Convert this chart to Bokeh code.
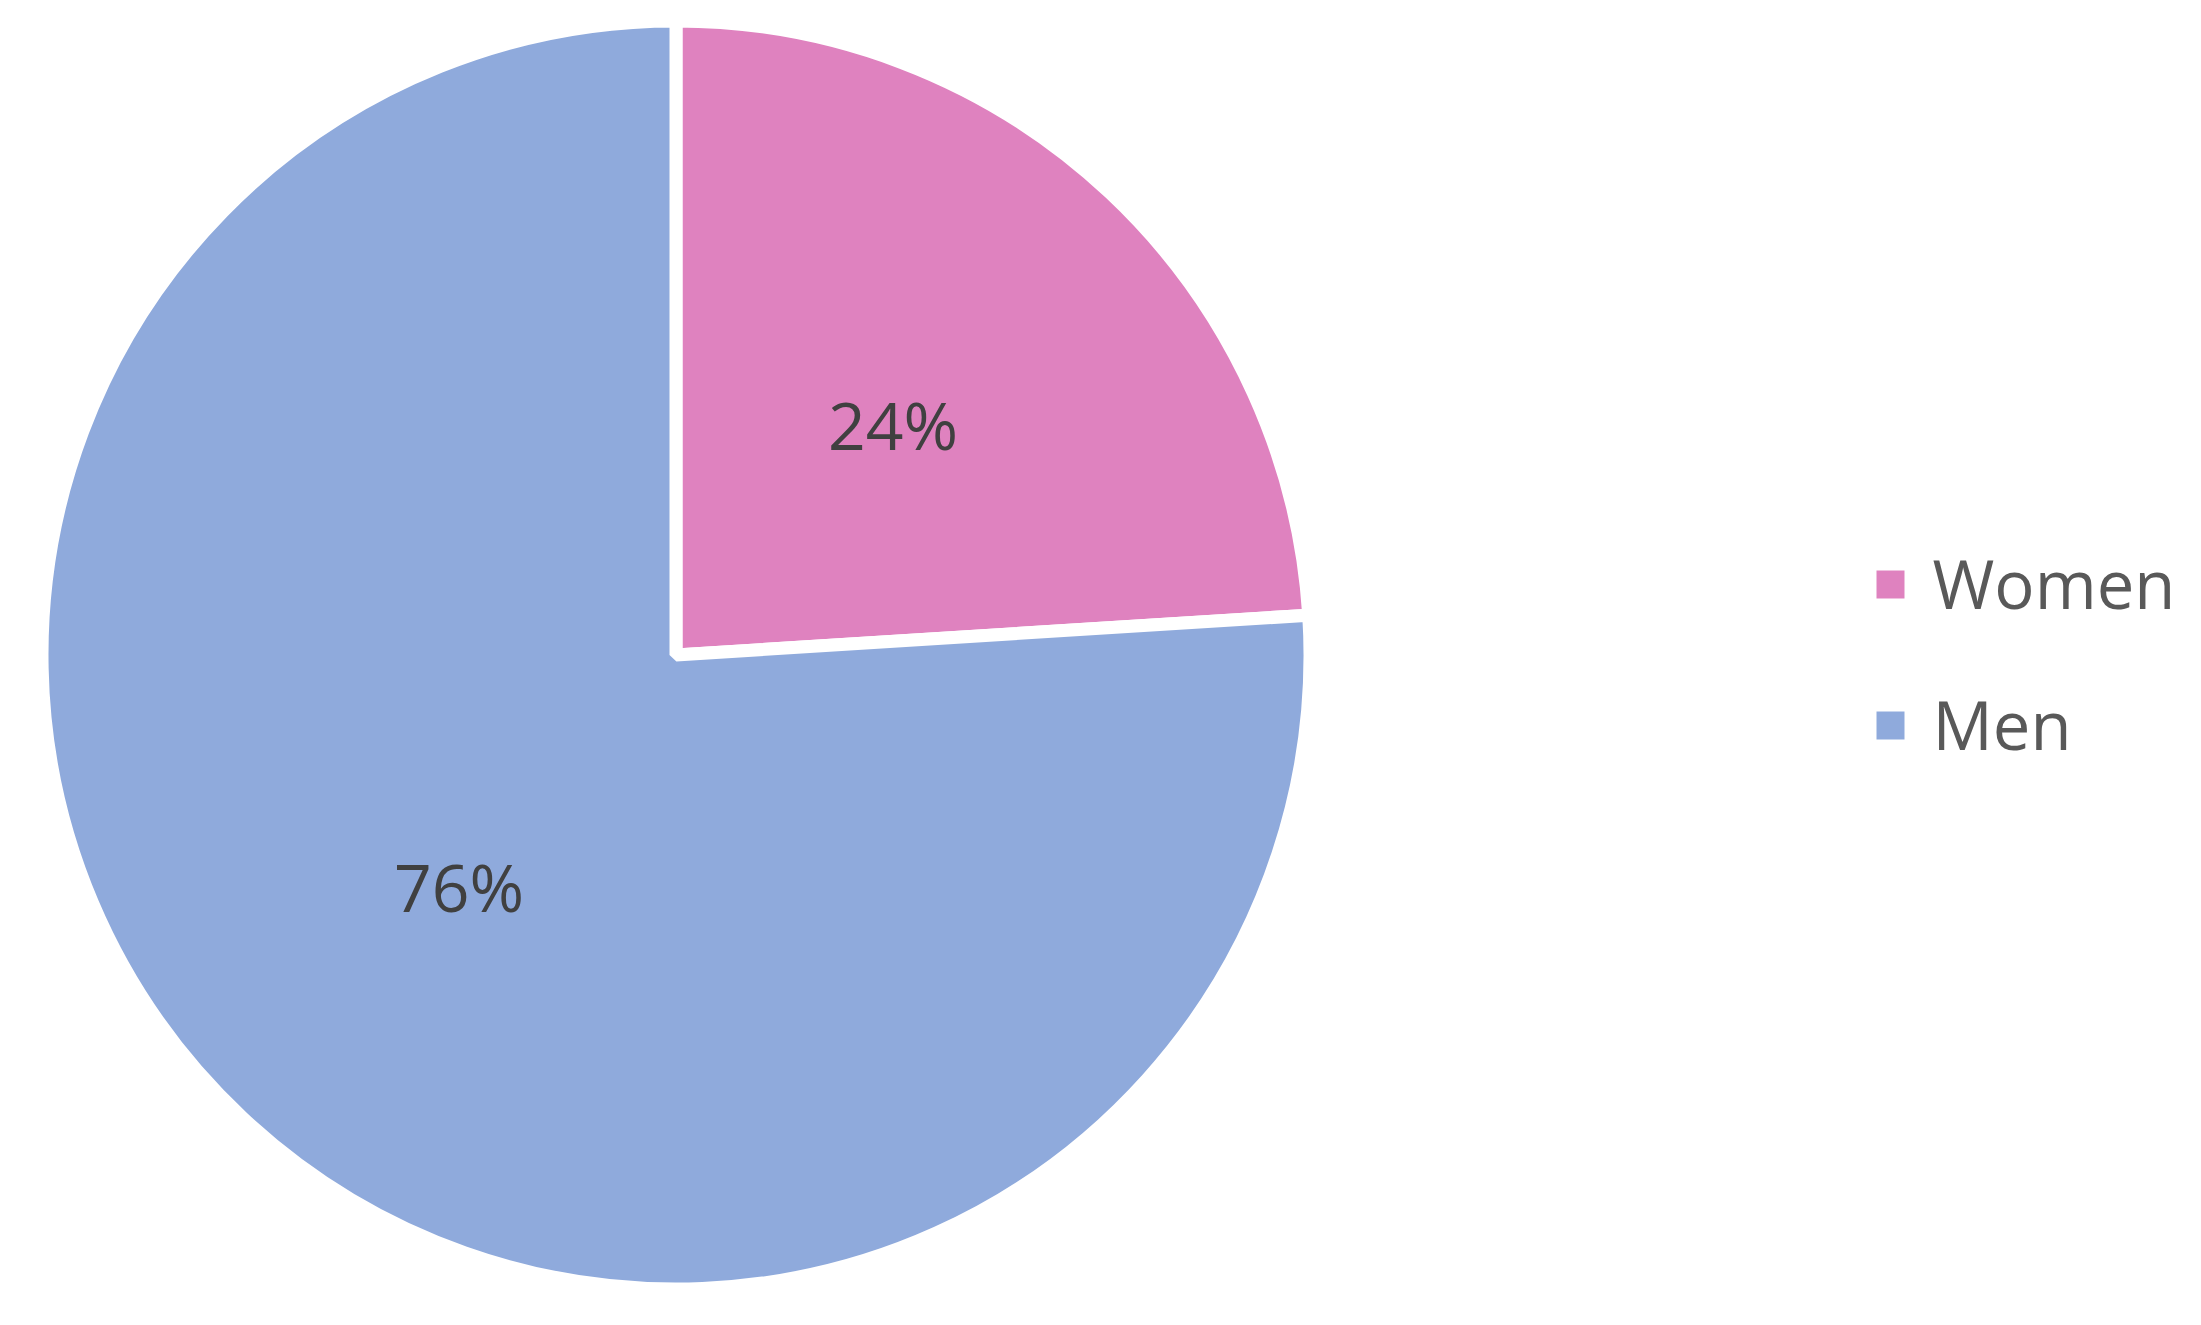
import numpy as np
from bokeh.plotting import figure
from bokeh.models import Range1d, ColumnDataSource
from bokeh.core.properties import value
from bokeh.embed import file_html
from bokeh.resources import INLINE

# ---- data ----
categories = ["Women", "Men"]
shares = [24, 76]
labels = ["24%", "76%"]
colors = ["#DF82BF", "#8FAADC"]

# ---- layout ----
W, H = 2185, 1309
cx, cy = 675.5, H - 654.5
R = 634
FONT = "Open Sans"

p = figure(width=W, height=H, output_backend="svg", toolbar_location=None,
           x_range=Range1d(0, W), y_range=Range1d(0, H),
           x_axis_location=None, y_axis_location=None, min_border=0,
           outline_line_color=None, background_fill_color="white",
           border_fill_color="white")
p.grid.visible = False

vals = np.array(shares, dtype=float)
frac = vals / vals.sum()
# clockwise from 12 o'clock
cum = np.concatenate([[0], np.cumsum(frac)])
start_cw = cum[:-1] * 2 * np.pi
end_cw = cum[1:] * 2 * np.pi
# convert to bokeh ccw angles
start = np.pi / 2 - end_cw
end = np.pi / 2 - start_cw
mid = (start + end) / 2

src = ColumnDataSource(dict(start=start, end=end, color=colors, cat=categories))
p.wedge(x=cx, y=cy, radius=R, start_angle="start", end_angle="end",
        fill_color="color", line_color="white", line_width=13, source=src)

lx = cx + 0.5 * R * np.cos(mid)
ly = cy + 0.5 * R * np.sin(mid)
p.text(x=lx, y=ly, text=labels, text_align="center", text_baseline="middle",
       text_font=value(FONT), text_font_size="66px", text_color="#404040")

# ---- legend ----
leg_x = 1890
leg_y0 = H - 584
leg_dy = 141
ly_leg = [leg_y0 - i * leg_dy for i in range(len(categories))]
p.rect(x=[leg_x] * len(categories), y=ly_leg, width=28, height=28,
       fill_color=colors, line_color=None)
p.text(x=[leg_x + 42] * len(categories), y=[v + 2 for v in ly_leg], text=categories,
       text_align="left", text_baseline="middle",
       text_font=value(FONT), text_font_size="67px", text_color="#595959")

open("out.html", "w").write(file_html(p, INLINE))
